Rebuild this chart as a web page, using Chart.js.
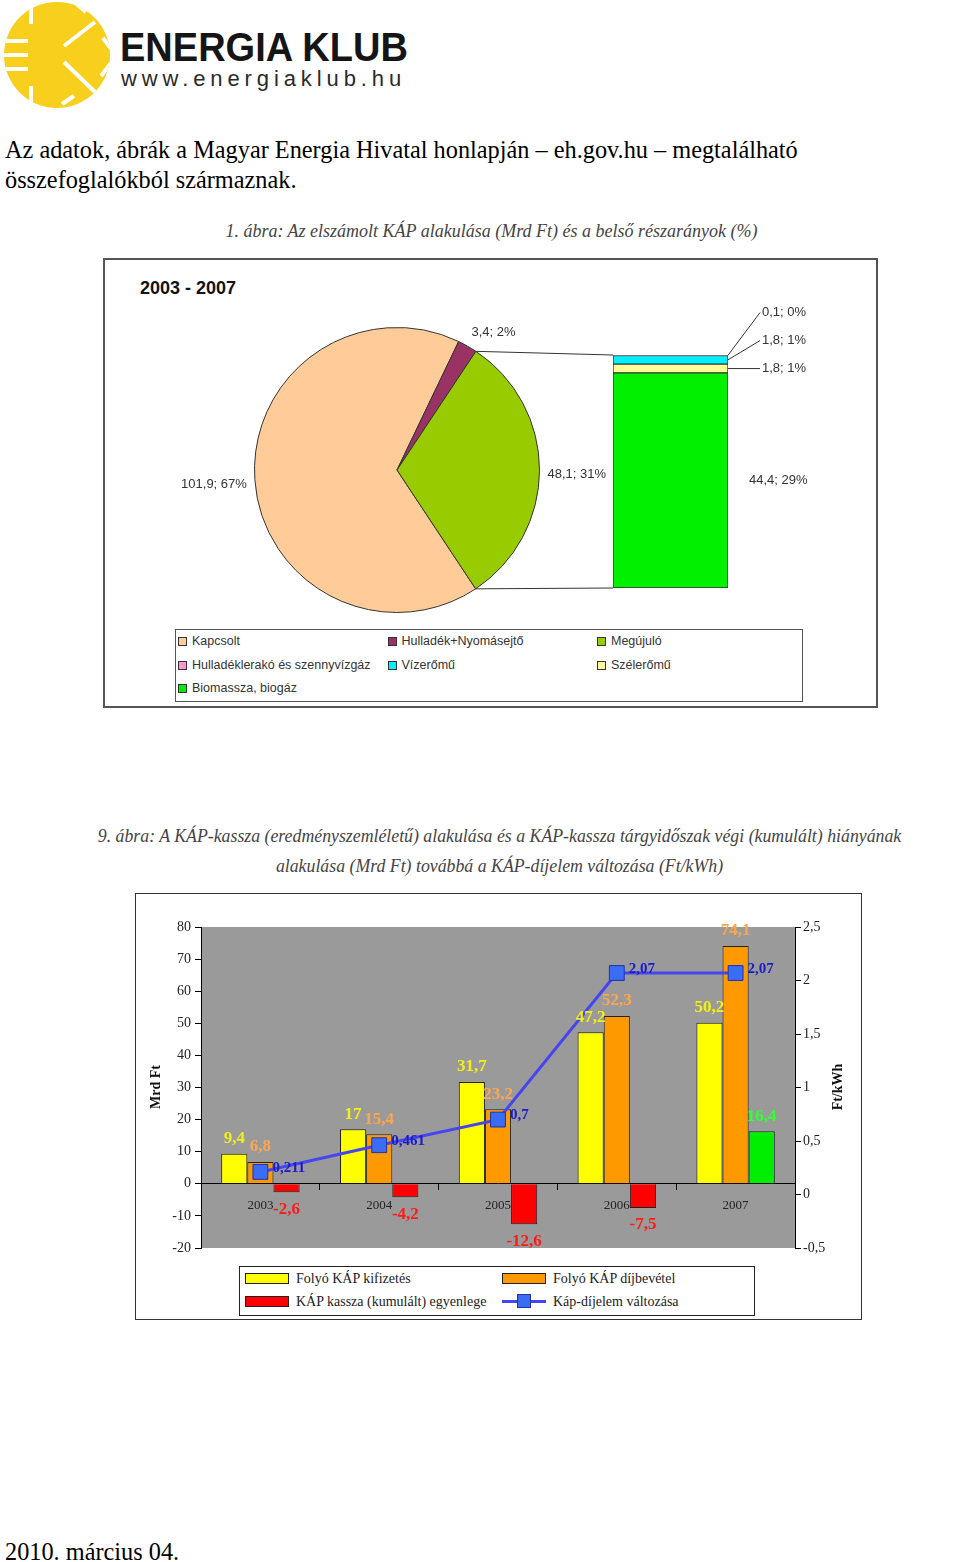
<!DOCTYPE html>
<html lang="hu">
<head>
<meta charset="utf-8">
<title>KÁP-kassza</title>
<script src="https://cdn.jsdelivr.net/npm/chart.js@4.4.1/dist/chart.umd.min.js"></script>
<style>
  html, body { margin: 0; padding: 0; background: #fff; }
  body { width: 960px; height: 1562px; position: relative; overflow: hidden;
         font-family: "Liberation Serif", "Times New Roman", serif; color: #000; }
  .abs { position: absolute; }
  #brand { left: 120px; top: 27px; font: bold 40px/40px "Liberation Sans", Arial, sans-serif;
           color: #151515; white-space: nowrap; transform-origin: 0 0; transform: scaleX(0.95); }
  #site { left: 121px; top: 68px; font: 22px/22px "Liberation Sans", Arial, sans-serif;
          letter-spacing: 4.9px; color: #2a2a2a; white-space: nowrap; }
  #intro { left: 5px; top: 135px; font-size: 24.3px; line-height: 29.5px; }
  #date { left: 5px; top: 1537px; font-size: 24.3px; line-height: 29px; }
  .title { left: 0; text-align: center; font-style: italic; color: #444; white-space: nowrap; }
  #title1 { width: 983px; top: 220px; line-height: 22px; font-size: 18px; }
  #title2 { width: 999px; top: 821px; line-height: 30px; font-size: 17.8px; }
  #box1 { left: 103px; top: 258px; width: 775px; height: 450px; border: 2px solid #555; box-sizing: border-box; background: #fff; }
  #period { left: 140px; top: 277px; font: bold 18px/22px "Liberation Sans", Arial, sans-serif; color: #111; }
  #legend1 { left: 175px; top: 629px; width: 628px; height: 73px; border: 1.5px solid #555; box-sizing: border-box; background: #fff; }
  .l1 { position: absolute; font: 12.5px/14px "Liberation Sans", Arial, sans-serif; color: #333; white-space: nowrap; }
  .l1 i { display: inline-block; width: 7px; height: 7px; border: 1px solid #333; margin-right: 5px; vertical-align: -1px; }
  #box2 { left: 135px; top: 893px; width: 727px; height: 427px; border: 1.5px solid #333; box-sizing: border-box; background: #fff; }
  .axisTitle { width: 90px; height: 16px; line-height: 16px; text-align: center; font-weight: bold; font-size: 14px; color: #111; transform: rotate(-90deg); }
  #legend2 { left: 239px; top: 1266px; width: 516px; height: 50px; border: 1px solid #222; box-sizing: border-box; background: #fff; }
  .l2 { position: absolute; font-size: 14px; line-height: 16px; color: #222; white-space: nowrap; }
  .l2 i { position: absolute; left: -51px; top: 2px; width: 44px; height: 11px; border: 1px solid #222; box-sizing: border-box; }
  .l2 i.line { border: none; height: 3px; top: 6px; background: #4646f0; }
  .l2 i.line b { position: absolute; left: 15px; top: -6px; width: 14px; height: 14px; box-sizing: border-box; background: #3a6cf4; border: 1px solid #2233aa; }
</style>
</head>
<body>

<svg class="abs" style="left:0;top:0" width="115" height="110" viewBox="0 0 115 110">
  <defs><clipPath id="sun"><circle cx="57" cy="55" r="53"/></clipPath></defs>
  <g clip-path="url(#sun)">
    <rect x="0" y="0" width="115" height="110" fill="#f7cf1c"/>
    <g stroke="#fff" stroke-width="4" fill="none">
      <path d="M2 41 H28 M2 55 H28 M2 69 H28"/>
      <path d="M31 2 V24 M31 86 V108"/>
      <path d="M64 46 L95 22 M64 62 L97 94"/>
      <path d="M74 2 L86 12 M103 38 L112 50 M101 76 L111 63 M62 104 L74 96"/>
    </g>
  </g>
</svg>
<div id="brand" class="abs">ENERGIA KLUB</div>
<div id="site" class="abs">www.energiaklub.hu</div>

<div id="intro" class="abs">Az adatok, ábrák a Magyar Energia Hivatal honlapján – eh.gov.hu – megtalálható<br>összefoglalókból származnak.</div>

<div id="title1" class="abs title">1. ábra: Az elszámolt KÁP alakulása (Mrd Ft) és a belső részarányok (%)</div>
<div id="box1" class="abs"></div>
<div id="period" class="abs">2003 - 2007</div>
<canvas id="pieChart" class="abs" style="left:147px;top:300px" width="500" height="340"></canvas>
<canvas id="stackChart" class="abs" style="left:440px;top:290px" width="400" height="310"></canvas>
<div id="legend1" class="abs"></div>

<div id="title2" class="abs title">9. ábra: A KÁP-kassza (eredményszemléletű) alakulása és a KÁP-kassza tárgyidőszak végi (kumulált) hiányának<br>alakulása (Mrd Ft) továbbá a KÁP-díjelem változása (Ft/kWh)</div>
<div id="box2" class="abs"></div>
<canvas id="kapChart" class="abs" style="left:136px;top:894px" width="725" height="368"></canvas>
<div class="abs axisTitle" style="left:111px;top:1079px">Mrd Ft</div>
<div class="abs axisTitle" style="left:793px;top:1079px">Ft/kWh</div>
<div id="legend2" class="abs"></div>

<div id="date" class="abs">2010. március 04.</div>

<script>
// === DATA: 1. ábra ===
const pieLabels = ["Kapcsolt", "Hulladék+Nyomásejtő", "Megújuló"];
const pieValues = [101.9, 3.4, 48.1];
const pieShares = [67, 2, 31];
const pieColors = ["#ffcc99", "#993366", "#99cc00"];

// bottom -> top of the "bar of pie"
const subLabels = ["Biomassza, biogáz", "Szélerőmű", "Vízerőmű", "Hulladéklerakó és szennyvízgáz"];
const subValues = [44.4, 1.8, 1.8, 0.1];
const subShares = [29, 1, 1, 0];
const subColors = ["#00f000", "#ffff99", "#00f0ff", "#ff99cc"];

// === DATA: 9. ábra ===
const years = ["2003", "2004", "2005", "2006", "2007"];
const kifizetes = [9.4, 17, 31.7, 47.2, 50.2];
const dijbevetel = [6.8, 15.4, 23.2, 52.3, 74.1];
const kassza = [-2.6, -4.2, -12.6, -7.5, 16.4];
const dijelem = [0.211, 0.461, 0.7, 2.07, 2.07];
const mrdTicks = { min: -20, max: 80, step: 10 };
const ftTicks = { min: -0.5, max: 2.5, step: 0.5 };
const kapLabels = ["Folyó KÁP kifizetés", "Folyó KÁP díjbevétel", "KÁP kassza (kumulált) egyenlege", "Káp-díjelem változása"];

const SERIF = '"Liberation Serif", "Times New Roman", serif';
const SANS = '"Liberation Sans", Arial, sans-serif';
const fmt = v => String(v).replace(".", ",");

// === HELPERS ===
function labelFor(value, share) {
  return fmt(value) + "; " + share + "%";
}

// === PIE ===
const pieLabelPlugin = {
  id: "pieLabelPlugin",
  afterDatasetsDraw(chart) {
    const ctx = chart.ctx;
    const meta = chart.getDatasetMeta(0);
    ctx.save();
    ctx.font = "13px " + SANS;
    ctx.fillStyle = "#333";
    meta.data.forEach((arc, i) => {
      const a = (arc.startAngle + arc.endAngle) / 2;
      const r = arc.outerRadius + 8;
      const c = Math.cos(a), s = Math.sin(a);
      ctx.textAlign = c > 0.2 ? "left" : (c < -0.2 ? "right" : "center");
      ctx.textBaseline = s < -0.6 ? "bottom" : (s > 0.6 ? "top" : "middle");
      ctx.fillText(labelFor(pieValues[i], pieShares[i]), arc.x + c * r, arc.y + s * r + (Math.abs(s) < 0.6 ? 4 : 0));
    });
    ctx.restore();
  }
};

const pieChart = new Chart(document.getElementById("pieChart"), {
  type: "pie",
  data: {
    labels: pieLabels,
    datasets: [{ data: pieValues, backgroundColor: pieColors, borderColor: "#333", borderWidth: 1, hoverOffset: 0 }]
  },
  options: {
    responsive: false,
    animation: false,
    rotation: 146.5,
    layout: { padding: { left: 107, right: 107, top: 27, bottom: 27 } },
    plugins: { legend: { display: false }, tooltip: { enabled: false } }
  },
  plugins: [pieLabelPlugin]
});

// === BAR OF PIE ===
const stackPlugin = {
  id: "stackPlugin",
  afterDatasetsDraw(chart) {
    const ctx = chart.ctx;
    ctx.save();
    ctx.strokeStyle = "#333";
    ctx.lineWidth = 1;

    // connectors from the Megújuló slice to the stacked bar
    const arc = pieChart.getDatasetMeta(0).data[2];
    const pr = pieChart.canvas.getBoundingClientRect();
    const br = chart.canvas.getBoundingClientRect();
    const dx = pr.left - br.left, dy = pr.top - br.top;
    const bottomBar = chart.getDatasetMeta(0).data[0];
    const topBar = chart.getDatasetMeta(subValues.length - 1).data[0];
    const barLeft = bottomBar.x - bottomBar.width / 2;
    const barRight = bottomBar.x + bottomBar.width / 2;
    ctx.beginPath();
    ctx.moveTo(dx + arc.x + Math.cos(arc.startAngle) * arc.outerRadius, dy + arc.y + Math.sin(arc.startAngle) * arc.outerRadius);
    ctx.lineTo(barLeft, topBar.y);
    ctx.moveTo(dx + arc.x + Math.cos(arc.endAngle) * arc.outerRadius, dy + arc.y + Math.sin(arc.endAngle) * arc.outerRadius);
    ctx.lineTo(barLeft, bottomBar.base);
    ctx.stroke();

    // labels, small segments get leader lines
    ctx.font = "13px " + SANS;
    ctx.fillStyle = "#333";
    ctx.textAlign = "left";
    ctx.textBaseline = "middle";
    let lastY = Infinity;
    subValues.forEach((v, i) => {
      const el = chart.getDatasetMeta(i).data[0];
      const mid = (el.y + el.base) / 2;
      const txt = labelFor(v, subShares[i]);
      if (el.base - el.y > 20) {
        ctx.fillText(txt, barRight + 21, mid);
      } else {
        const ly = Math.min(mid, lastY - 28);
        lastY = ly;
        ctx.beginPath();
        ctx.moveTo(barRight, mid);
        ctx.lineTo(barRight + 32, ly);
        ctx.stroke();
        ctx.fillText(txt, barRight + 34, ly);
      }
    });
    ctx.restore();
  }
};

new Chart(document.getElementById("stackChart"), {
  type: "bar",
  data: {
    labels: ["Megújuló"],
    datasets: subLabels.map((name, i) => ({
      label: name,
      data: [subValues[i]],
      backgroundColor: subColors[i],
      borderColor: "#333",
      borderWidth: 1,
      borderSkipped: false,
      barPercentage: 1,
      categoryPercentage: 1
    }))
  },
  options: {
    responsive: false,
    animation: false,
    layout: { padding: { left: 173, right: 112, top: 65, bottom: 12 } },
    scales: {
      x: { display: false, stacked: true },
      y: { display: false, stacked: true, min: 0, max: subValues.reduce((a, b) => a + b, 0) }
    },
    plugins: { legend: { display: false }, tooltip: { enabled: false } }
  },
  plugins: [stackPlugin]
});

// legend for 1. ábra (3 columns, row by row)
const legend1Items = pieLabels.map((l, i) => [l, pieColors[i]])
  .concat(subLabels.map((l, i) => [l, subColors[i]]).reverse());
const legend1 = document.getElementById("legend1");
legend1Items.forEach(([name, color], k) => {
  const item = document.createElement("div");
  item.className = "l1";
  item.style.left = (2 + (k % 3) * 209.5) + "px";
  item.style.top = (4 + Math.floor(k / 3) * 23.5) + "px";
  item.innerHTML = `<i style="background:${color}"></i>${name}`;
  legend1.appendChild(item);
});

// === 9. ábra ===
const plotBg = {
  id: "plotBg",
  beforeDraw(chart) {
    const { ctx, chartArea: a } = chart;
    ctx.save();
    ctx.fillStyle = "#9a9a9a";
    ctx.fillRect(a.left, a.top, a.width, a.height);
    ctx.restore();
  }
};

const barLabelColors = ["#f2ee1a", "#ffa64d", null, "#1a1acd"];
const valueLabels = {
  id: "valueLabels",
  afterDatasetsDraw(chart) {
    const ctx = chart.ctx;
    ctx.save();
    chart.data.datasets.forEach((ds, i) => {
      const meta = chart.getDatasetMeta(i);
      meta.data.forEach((el, j) => {
        const v = ds.data[j];
        if (ds.type === "line") {
          ctx.font = "bold 15px " + SERIF;
          ctx.fillStyle = barLabelColors[i];
          ctx.textAlign = "left";
          ctx.textBaseline = "middle";
          ctx.fillText(fmt(v), el.x + 12, el.y - 4);
          return;
        }
        ctx.font = "bold 17px " + SERIF;
        ctx.fillStyle = barLabelColors[i] || (v < 0 ? "#ff1a1a" : "#33ff33");
        ctx.textAlign = "center";
        ctx.textBaseline = "middle";
        ctx.fillText(fmt(v), el.x, v < 0 ? el.y + 17 : el.y - 15);
      });
    });
    ctx.restore();
  }
};

const axisFont = { family: SERIF, size: 14 };
new Chart(document.getElementById("kapChart"), {
  data: {
    labels: years,
    datasets: [
      { type: "bar", label: kapLabels[0], data: kifizetes, backgroundColor: "#ffff00", borderColor: "#222", borderWidth: 1, order: 1 },
      { type: "bar", label: kapLabels[1], data: dijbevetel, backgroundColor: "#ff9900", borderColor: "#222", borderWidth: 1, order: 1 },
      { type: "bar", label: kapLabels[2], data: kassza, backgroundColor: kassza.map(v => v < 0 ? "#ff0000" : "#00ee00"), borderColor: "#222", borderWidth: 1, order: 1 },
      { type: "line", label: kapLabels[3], data: dijelem, yAxisID: "y1", borderColor: "#4646f0", borderWidth: 3,
        pointStyle: "rect", pointRadius: 10.5, pointBackgroundColor: "#3a6cf4", pointBorderColor: "#2233aa", pointBorderWidth: 1, order: 0 }
    ]
  },
  options: {
    responsive: false,
    animation: false,
    layout: { padding: { left: 0, right: 0, top: 33, bottom: 14 } },
    datasets: { bar: { barPercentage: 1, categoryPercentage: 0.66 } },
    scales: {
      x: {
        position: { y: 0 },
        grid: { drawOnChartArea: false, tickLength: 6, color: "#000" },
        border: { color: "#000", width: 1 },
        ticks: { color: "#222", font: { family: SERIF, size: 13 }, padding: 8, maxRotation: 0 }
      },
      y: {
        position: "left", min: mrdTicks.min, max: mrdTicks.max,
        ticks: { stepSize: mrdTicks.step, color: "#222", font: axisFont, padding: 4 },
        grid: { drawOnChartArea: false, tickLength: 6, color: "#000" },
        border: { color: "#000", width: 1 },
        afterFit: s => { s.width = 65; }
      },
      y1: {
        position: "right", min: ftTicks.min, max: ftTicks.max,
        ticks: { stepSize: ftTicks.step, color: "#222", font: axisFont, padding: 2, callback: v => fmt(v) },
        grid: { drawOnChartArea: false, tickLength: 6, color: "#000" },
        border: { color: "#000", width: 1 },
        afterFit: s => { s.width = 66; }
      }
    },
    plugins: { legend: { display: false }, tooltip: { enabled: false } }
  },
  plugins: [plotBg, valueLabels]
});

// legend for 9. ábra
const legend2 = document.getElementById("legend2");
const legend2Swatch = ["#ffff00", "#ff9900", "#ff0000", null];
kapLabels.forEach((name, k) => {
  const item = document.createElement("div");
  item.className = "l2";
  item.style.left = (56 + (k % 2) * 257) + "px";
  item.style.top = (4 + Math.floor(k / 2) * 23) + "px";
  item.innerHTML = legend2Swatch[k]
    ? `<i style="background:${legend2Swatch[k]}"></i>${name}`
    : `<i class="line"><b></b></i>${name}`;
  legend2.appendChild(item);
});
</script>
</body>
</html>
